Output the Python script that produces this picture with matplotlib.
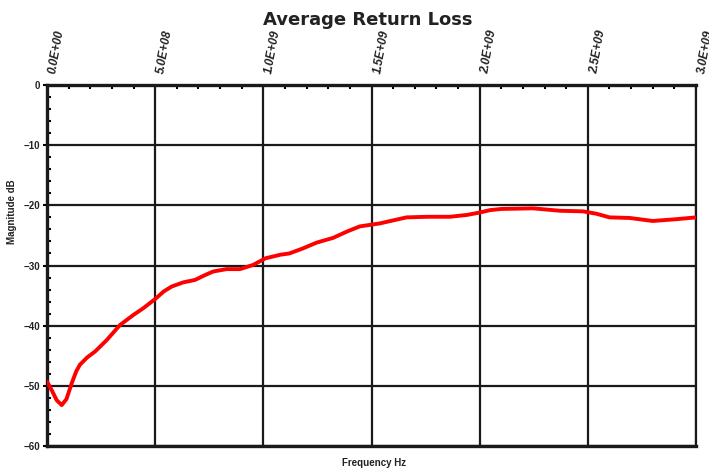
import matplotlib
matplotlib.use('Agg')
import matplotlib.pyplot as plt
from matplotlib.ticker import MultipleLocator, FuncFormatter

# Average return loss
freq_hz = [0.0, 0.02e9, 0.045e9, 0.068e9, 0.09e9, 0.114e9, 0.135e9, 0.152e9, 0.185e9,
           0.222e9, 0.276e9, 0.337e9, 0.40e9, 0.445e9, 0.499e9, 0.54e9, 0.576e9,
           0.63e9, 0.684e9, 0.73e9, 0.768e9, 0.83e9, 0.892e9, 0.953e9, 1.01e9,
           1.08e9, 1.12e9, 1.18e9, 1.246e9, 1.323e9, 1.39e9, 1.446e9, 1.539e9,
           1.60e9, 1.662e9, 1.76e9, 1.862e9, 1.94e9, 2.0e9, 2.047e9, 2.10e9,
           2.247e9, 2.37e9, 2.478e9, 2.54e9, 2.60e9, 2.694e9, 2.80e9, 2.91e9, 3.0e9]
mag_db = [-49.3, -50.6, -52.4, -53.2, -52.2, -49.6, -47.6, -46.5, -45.3,
          -44.3, -42.4, -39.9, -38.2, -37.1, -35.6, -34.3, -33.5,
          -32.8, -32.4, -31.6, -31.0, -30.6, -30.6, -29.9, -28.8,
          -28.2, -28.0, -27.2, -26.2, -25.4, -24.3, -23.5, -23.0,
          -22.5, -22.0, -21.9, -21.9, -21.6, -21.2, -20.8, -20.6,
          -20.5, -20.9, -21.0, -21.4, -22.0, -22.1, -22.6, -22.3, -22.0]

x_ticks = [0, 0.5e9, 1.0e9, 1.5e9, 2.0e9, 2.5e9, 3.0e9]
y_ticks = [0, -10, -20, -30, -40, -50, -60]

fig = plt.figure(figsize=(7.09, 4.71), dpi=100)
ax = fig.add_axes([0.0663, 0.0531, 0.9154, 0.7664])

ax.plot(freq_hz, mag_db, color='#ff0000', lw=2.8, solid_capstyle='round',
        solid_joinstyle='round', zorder=3)

ax.set_xlim(0, 3e9)
ax.set_ylim(-60, 0)
ax.set_xticks(x_ticks)
ax.set_yticks(y_ticks)
ax.xaxis.set_minor_locator(MultipleLocator(1e8))
ax.yaxis.set_minor_locator(MultipleLocator(2))
ax.grid(True, which='major', color='#1a1a1a', lw=1.6)
ax.set_axisbelow(True)


def sci_label(v, pos):
    if v == 0:
        return '0.0E+00'
    e = len(str(int(v))) - 1
    return '%.1fE+%02d' % (v / 10 ** e, e)


ax.xaxis.tick_top()
ax.xaxis.set_major_formatter(FuncFormatter(sci_label))
for lab in ax.get_xticklabels():
    lab.set_rotation(80)
    lab.set_rotation_mode('anchor')
    lab.set_ha('left')
    lab.set_va('top')
    lab.set_fontstyle('italic')
ax.tick_params(axis='x', which='major', length=0, pad=9, labelsize=8.5)
ax.tick_params(axis='x', which='minor', direction='in', length=3, width=1.5, top=True,
               bottom=False)
ax.tick_params(axis='y', which='major', direction='out', length=3, width=1.5, pad=2,
               labelsize=7)
ax.tick_params(axis='y', which='minor', direction='in', length=3, width=1.5)
for lab in ax.get_xticklabels() + ax.get_yticklabels():
    lab.set_fontfamily('Liberation Sans')
    lab.set_fontweight('bold')
    lab.set_color('#222222')

for side in ['left', 'bottom', 'top']:
    ax.spines[side].set_linewidth(2.4)
    ax.spines[side].set_color('#1a1a1a')
ax.spines['right'].set_linewidth(1.6)
ax.spines['right'].set_color('#1a1a1a')

fig.text(0.519, 0.958, 'Average Return Loss', ha='center', va='center',
         fontsize=13, fontweight='bold', family='DejaVu Sans', color='#222222')
fig.text(0.527, 0.017, 'Frequency Hz', ha='center', va='center', fontsize=7,
         fontweight='bold', family='Liberation Sans', color='#222222')
fig.text(0.017, 0.55, 'Magnitude dB', ha='center', va='center', rotation=90,
         fontsize=7, fontweight='bold', family='Liberation Sans', color='#222222')

fig.savefig('out.png', dpi=100)
